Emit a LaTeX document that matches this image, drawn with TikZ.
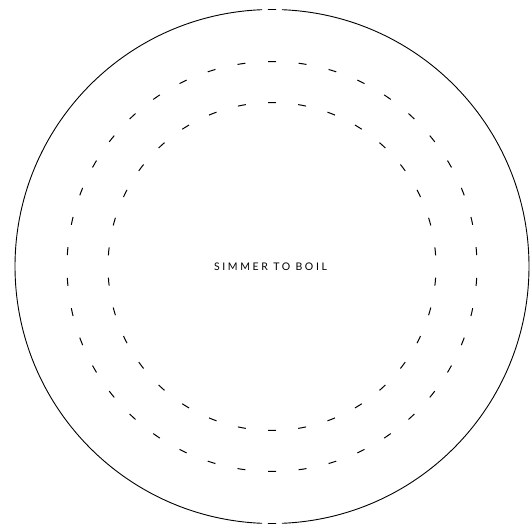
\documentclass[tikz,border=0pt]{standalone}
\usepackage{fontspec}
\newfontfamily\labelfont[LetterSpace=25]{Lato}
\begin{document}
\begin{tikzpicture}[x=1pt,y=1pt,
  rim/.style={line width=0.9pt, black},
  ringdash/.style={line width=1pt, black},
  label/.style={font=\labelfont\fontsize{10.5}{12}\selectfont, inner sep=0pt}]
\useasboundingbox (0,0) rectangle (530,525);
\coordinate (c) at (272,258.5);
% outer circle with small gaps top and bottom
\draw[rim] ([shift={(c)}]87.77:257) arc[start angle=87.77, end angle=-87.77, radius=257];
\draw[rim] ([shift={(c)}]92.23:257) arc[start angle=92.23, end angle=267.77, radius=257];
\draw[rim] ([shift={(c)}]90.9:257) arc[start angle=90.9, end angle=89.1, radius=257];
\draw[rim] ([shift={(c)}]269.1:257) arc[start angle=269.1, end angle=270.9, radius=257];
% outer dashed ring: 42 dashes
\foreach \i in {0,...,41}{
  \pgfmathsetmacro{\a}{90+\i*360/42}
  \draw[ringdash] ([shift={(c)}]\a-1.118:205) arc[start angle=\a-1.118, end angle=\a+1.118, radius=205];
}
% inner dashed ring: 34 dashes
\foreach \i in {0,...,33}{
  \pgfmathsetmacro{\a}{90+\i*360/34}
  \draw[ringdash] ([shift={(c)}]\a-1.397:164) arc[start angle=\a-1.397, end angle=\a+1.397, radius=164];
}
\node[label] (t) at (270.5,258.5) {SIMMER TO BOIL};
\end{tikzpicture}
\end{document}
